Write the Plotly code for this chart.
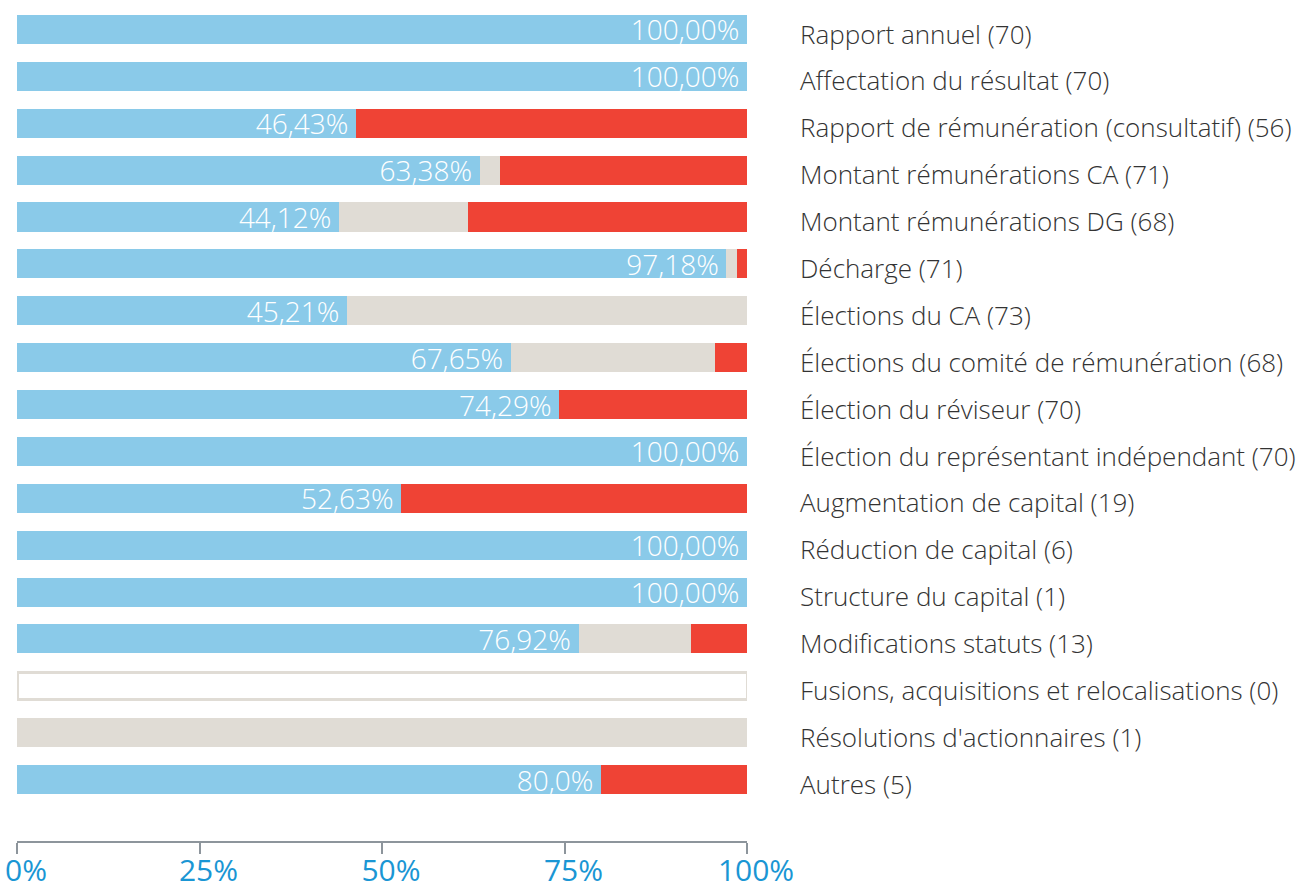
import plotly.graph_objects as go

names = [
    "Rapport annuel", "Affectation du résultat", "Rapport de rémunération (consultatif)",
    "Montant rémunérations CA", "Montant rémunérations DG", "Décharge", "Élections du CA",
    "Élections du comité de rémunération", "Élection du réviseur",
    "Élection du représentant indépendant", "Augmentation de capital", "Réduction de capital",
    "Structure du capital", "Modifications statuts", "Fusions, acquisitions et relocalisations",
    "Résolutions d'actionnaires", "Autres",
]
counts = [70, 70, 56, 71, 68, 71, 73, 68, 70, 70, 19, 6, 1, 13, 0, 1, 5]
approve = [100, 100, 46.43, 63.38, 44.12, 97.18, 45.21, 67.65, 74.29, 100, 52.63, 100, 100, 76.92, 0, 0, 80.0]
abstain = [0, 0, 0, 2.82, 17.65, 1.41, 54.79, 27.94, 0, 0, 0, 0, 0, 15.38, 0, 100, 0]
against = [0, 0, 53.57, 33.80, 38.24, 1.41, 0, 4.41, 25.71, 0, 47.37, 0, 0, 7.69, 0, 0, 20.0]
approve_labels = ["100,00%", "100,00%", "46,43%", "63,38%", "44,12%", "97,18%", "45,21%",
                  "67,65%", "74,29%", "100,00%", "52,63%", "100,00%", "100,00%", "76,92%",
                  "", "", "80,0%"]
x_ticks = [0, 25, 50, 75, 100]
x_tick_labels = ["0%", "25%", "50%", "75%", "100%"]

BLUE = "#8acae9"
GREY = "#e0dcd5"
RED = "#ef4335"
WIDTH = 0.62

ypos = list(range(len(names)))
cat_labels = [f"{n} ({c})" for n, c in zip(names, counts)]

fig = go.Figure()
fig.add_trace(go.Bar(
    y=ypos, x=approve, orientation="h", marker=dict(color=BLUE, line=dict(width=0)),
    width=WIDTH, text=approve_labels, texttemplate="%{text}\u2009",
    textposition="inside", insidetextanchor="end",
    textfont=dict(color="white", size=28, family="Open Sans", weight=300),
    constraintext="none", cliponaxis=False, name="Pour",
))
fig.add_trace(go.Bar(
    y=ypos, x=abstain, orientation="h", marker=dict(color=GREY, line=dict(width=0)),
    width=WIDTH, name="Abstention",
))
fig.add_trace(go.Bar(
    y=ypos, x=against, orientation="h", marker=dict(color=RED, line=dict(width=0)),
    width=WIDTH, name="Contre",
))
# empty categories (no votes): outlined bar
empty_y = [y for y, c in zip(ypos, counts) if c == 0]
fig.add_trace(go.Bar(
    y=empty_y, x=[100] * len(empty_y), base=[0] * len(empty_y), orientation="h",
    marker=dict(color="white", line=dict(color=GREY, width=3)),
    width=WIDTH - 0.04, name="Aucun",
))

fig.update_layout(
    barmode="stack",
    width=1299, height=888,
    margin=dict(l=17, r=552, t=6, b=47, autoexpand=False),
    paper_bgcolor="white", plot_bgcolor="white",
    showlegend=False,
    uniformtext=dict(minsize=28, mode="show"),
    font=dict(family="Open Sans", color="#333333"),
    xaxis=dict(
        range=[0, 100], tickvals=x_ticks, ticktext=x_tick_labels, automargin=False,
        showgrid=False, zeroline=False, showline=True, linecolor="#8d959c", linewidth=2,
        ticks="outside", ticklen=11, tickcolor="#8d959c", tickwidth=2,
        tickfont=dict(size=30, color="#1a96d4", family="Open Sans"),
        ticklabelshift=9, ticklabelstandoff=-9, ticklabeloverflow="allow",
    ),
    yaxis=dict(
        range=[17.31, -0.5], tickvals=ypos, ticktext=cat_labels, side="right",
        automargin=False,
        showgrid=False, zeroline=False, showline=False, ticks="",
        tickfont=dict(size=26, color="#333333", family="Open Sans", weight=300),
        ticklabelstandoff=52, ticklabelshift=-5, ticklabeloverflow="allow",
    ),
)

fig.write_html(
    "out.html",
    config={"displayModeBar": False},
    post_script="document.body.style.margin='0';document.body.style.overflow='hidden';",
)
